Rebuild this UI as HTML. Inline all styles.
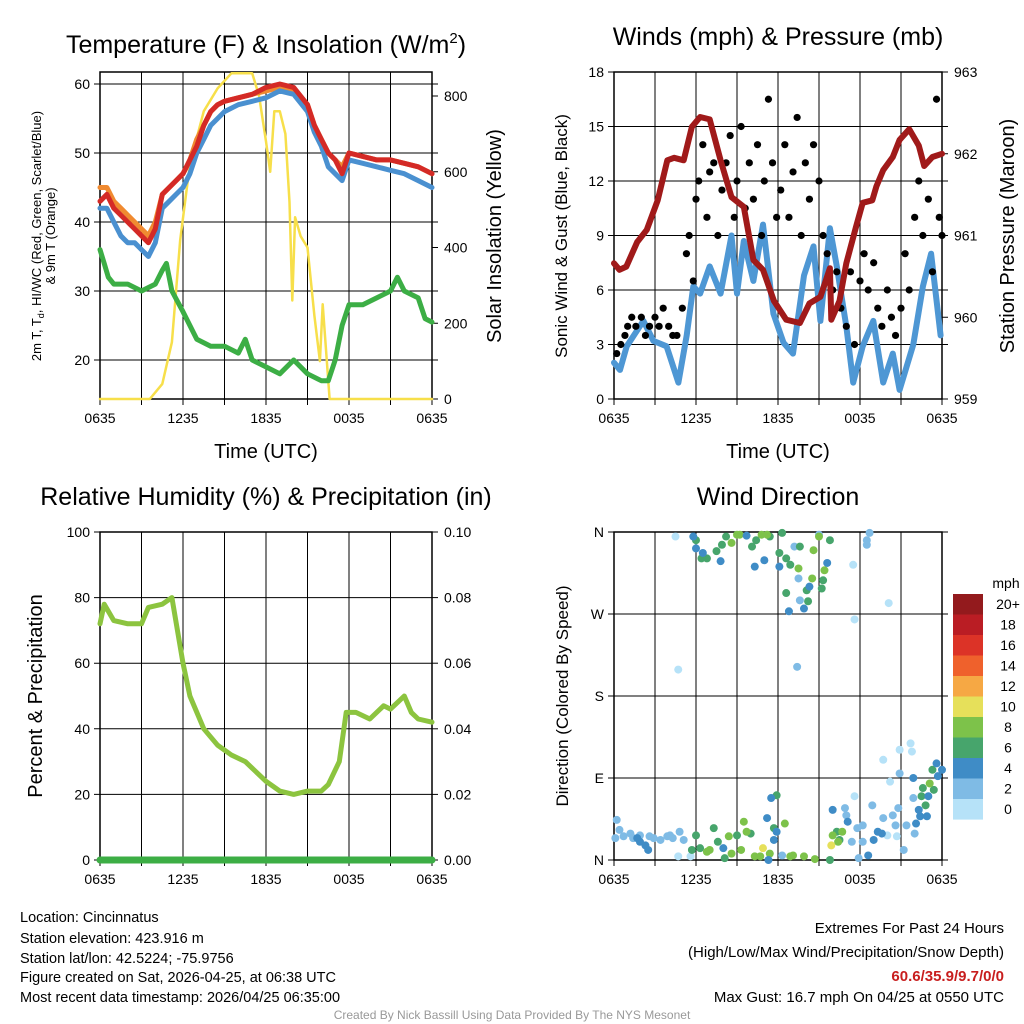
<!DOCTYPE html>
<html><head><meta charset="utf-8"><style>
body{margin:0;background:#fff;}
svg{display:block;font-family:"Liberation Sans",Arial,sans-serif;}
</style></head><body>
<svg id="s" width="1024" height="1024" viewBox="0 0 1024 1024" xmlns="http://www.w3.org/2000/svg">
<g>
<text x="266" y="53" font-size="25" text-anchor="middle">Temperature (F) &amp; Insolation (W/m<tspan dy="-10" font-size="15">2</tspan><tspan dy="10">)</tspan></text>
<text transform="translate(41,236) rotate(-90)" font-size="13" text-anchor="middle">2m T, T<tspan dy="3" font-size="9">d</tspan><tspan dy="-3">, HI/WC (Red, Green, Scarlet/Blue)</tspan></text>
<text transform="translate(55,236) rotate(-90)" font-size="13" text-anchor="middle">&amp; 9m T (Orange)</text>
<text transform="translate(501,236) rotate(-90)" font-size="20" text-anchor="middle">Solar Insolation (Yellow)</text>
<text x="266" y="458" font-size="20" text-anchor="middle">Time (UTC)</text>
</g>
<g>
<text x="778" y="45" font-size="25" text-anchor="middle">Winds (mph) &amp; Pressure (mb)</text>
<text transform="translate(567,236) rotate(-90)" font-size="17" text-anchor="middle">Sonic Wind &amp; Gust (Blue, Black)</text>
<text transform="translate(1014,236) rotate(-90)" font-size="20" text-anchor="middle">Station Pressure (Maroon)</text>
<text x="778" y="458" font-size="20" text-anchor="middle">Time (UTC)</text>
</g>
<g>
<text x="266" y="505" font-size="25" text-anchor="middle">Relative Humidity (%) &amp; Precipitation (in)</text>
<text transform="translate(42,696) rotate(-90)" font-size="20" text-anchor="middle">Percent &amp; Precipitation</text>
</g>
<g>
<text x="778" y="505" font-size="25" text-anchor="middle">Wind Direction</text>
<text transform="translate(568,696) rotate(-90)" font-size="17" text-anchor="middle">Direction (Colored By Speed)</text>
<text x="1006" y="588" font-size="14" text-anchor="middle">mph</text>
</g>
<g font-size="14.5">
<text x="20" y="922">Location: Cincinnatus</text>
<text x="20" y="943">Station elevation: 423.916 m</text>
<text x="20" y="963">Station lat/lon: 42.5224; -75.9756</text>
<text x="20" y="982">Figure created on Sat, 2026-04-25, at 06:38 UTC</text>
<text x="20" y="1002">Most recent data timestamp: 2026/04/25 06:35:00</text>
</g>
<g font-size="15" text-anchor="end">
<text x="1004" y="933">Extremes For Past 24 Hours</text>
<text x="1004" y="957">(High/Low/Max Wind/Precipitation/Snow Depth)</text>
<text x="1004" y="981" fill="#c81e1e" font-weight="bold">60.6/35.9/9.7/0/0</text>
<text x="1004" y="1002">Max Gust: 16.7 mph On 04/25 at 0550 UTC</text>
</g>
<text x="512" y="1019" font-size="12" fill="#999" text-anchor="middle">Created By Nick Bassill Using Data Provided By The NYS Mesonet</text>
</svg>
<script>
// ---- data ----
const xTickLabels=["0635","1235","1835","0035","0635"];
const tempT=[0,0.5,1,1.5,2,2.5,3,3.5,4,4.5,5,5.5,6,6.5,7,7.5,8,8.5,9,10,11,12,13,14,15,15.5,16,16.5,17,17.5,18,19,20,21,22,23,24];
const tempRed=[43,44,42,41,40,39,38,37,39,44,45,46,47,49,51,54,56,57,57.5,58,58.5,59.5,60,59.5,57,54,52,50,49,47,50,49.5,49,49,48.5,48,47];
const tempBlue=[42,42,40,38,37,37,36,35,37,42,43,44,45,47,50,52,54,55,56,57,57.5,58,59,58.5,56,53,51,48,47,46,49,48.5,48,47.5,47,46,45];
const tempOrange=[45,45,43,42,41,40,39,38,40,44,45,46,47,49,52,54,56,57,57.5,58,58.5,59,59.5,59,57,54,52,50,49,48,50,49.5,49,49,48.5,48,47];
const dewT=[0,0.3,0.6,1,2,3,4,4.5,4.8,5.2,6,7,8,9,10,10.5,11,12,13,14,15,16,16.5,17,17.5,18,19,20,21,21.5,22,23,23.5,24];
const dewGreen=[36,34,32,31,31,30,31,33,34,30,27,23,22,22,21,23,20,19,18,20,18,17,17,20,25,28,28,29,30,32,30,29,26,25.5];
const solT=[0,3.6,4.5,5.2,5.8,6.5,7.5,8.5,9.5,11,11.5,12,12.3,12.6,13,13.4,13.7,13.9,14.1,14.5,15,15.5,15.9,16.1,16.6,24];
const solY=[0,0,40,150,420,620,760,820,860,860,800,680,600,760,760,700,520,260,480,430,400,220,100,250,0,0];
const windT=[0,0.44,0.93,2.15,2.88,3.85,4.71,5.32,5.8,6.3,7.0,7.8,8.6,9.0,9.5,10.2,10.9,11.66,12.4,13.1,13.9,14.6,15.1,15.8,16.3,17.0,17.5,18.2,18.97,19.7,20.4,20.9,21.9,22.6,23.2,23.9];
const windBlue=[2,1.6,2.9,4.3,3.2,2.9,0.9,3.5,6.2,5.8,7.3,5.8,9,5.8,8.7,6.5,9.6,4.7,3.1,2.5,6.8,8.4,4.3,9.4,7.3,4,0.9,2.9,4.3,0.9,2.5,0.5,3,6.2,8,3.5];
const presT=[0,0.4,0.9,1.7,2.4,3.2,3.9,4.4,5.1,5.7,6.3,7.0,7.8,8.6,9.5,10.2,10.9,11.7,12.6,13.6,14.3,15.1,15.8,15.9,16.5,17.0,17.7,18.2,18.9,19.2,19.7,20.4,20.9,21.6,22.3,22.7,23.3,24];
const presM=[960.66,960.58,960.62,960.92,961.07,961.43,961.92,961.95,961.92,962.33,962.45,962.42,961.92,961.47,961.35,960.7,960.58,960.2,959.97,959.93,960.17,960.25,960.6,959.97,960.2,960.66,961.1,961.4,961.43,961.6,961.8,961.96,962.17,962.3,962.1,961.85,961.96,962.0];
const gustT=[0.2,0.5,0.8,1,1.3,1.6,2,2.3,2.6,3,3.3,3.6,4,4.3,4.6,5,5.3,5.5,5.8,6,6.2,6.5,6.8,7,7.3,7.6,7.9,8.2,8.5,8.8,9,9.3,9.6,9.9,10.2,10.5,10.8,11,11.3,11.6,11.9,12.2,12.5,12.8,13.1,13.4,13.7,14,14.3,14.6,15,15.3,15.6,16,16.3,16.6,17,17.3,17.6,18,18.3,18.6,19,19.3,19.6,20,20.3,20.6,21,21.3,21.6,22,22.3,22.6,23,23.3,23.6,23.8,24];
const gustV=[2.5,3,3.5,4,4.5,4,4.5,3.5,4,4.5,4,5,4,3.5,3.5,5,8,9,6.5,11,12,14,10,12.5,13,9,11.5,13,14.5,10,12,15,10.5,13,11,14,9,12,16.5,13,10,11.5,14,10,12.5,15.5,9,13,11,14,12,9,8,6,7,5,4,7,3,6.5,8,6,7.5,5,4,6,4.5,3.5,5,8,6,10,12,9,11,7,16.5,10,9];
const rhT=[0,0.3,1,2,3,3.5,4.5,5.2,6,6.5,7.5,8.5,9.5,10.5,11,12,13,14,15,16,16.5,17.3,17.8,18.5,19.5,20.5,21,21.5,22,22.5,23,24];
const rhV=[72,78,73,72,72,77,78,80,60,50,40,35,32,30,28,24,21,20,21,21,23,30,45,45,43,47,46,48,50,45,43,42];
const precipT=[0,24];
const precipV=[0,0];
const dirT=[0.1,0.4,1.2,2.6,3.4,3.9,4.3,4.8,5.1,0.2,13.2,13.5,13.6,13.4,18.5,18.7,18.5,16.9,17.0,18.2,17.8,17.4,18.2,18.9,19.7,20.4,20.8,21.9,21.4,22.0,21.2,15.0,12.3,17.9,20.6,20.9,0.7,1.9,2.9,4.1,1.4,
4.7,5.6,4.5,4.7,17.5,17.6,20.1,19.7,20.9,21.7,21.8,20.2,17.6,20.0,20.7,
6.0,5.7,6.3,7.3,7.6,8.1,9.0,10.0,11.9,11.7,15.8,6.0,6.4,6.8,7.5,7.9,8.2,10.4,12.1,12.6,12.9,12.6,13.6,14.1,14.2,15.3,15.2,15.8,10.1,11.4,12.3,23.3,22.5,22.6,22.8,23.4,16.3,16.5,
6.8,7.0,8.4,8.6,9.3,9.5,9.7,10.3,10.7,11.4,12.5,12.9,13.1,13.9,14.7,8.6,9.0,9.2,10.8,11.2,14.5,14.6,15.0,15.4,13.5,23.1,16.0,16.4,16.7,
10.9,15.9,
5.8,6.0,6.5,7.8,9.7,10.3,11.0,12.1,12.8,13.9,14.3,15.6,11.2,11.5,11.7,11.9,8.0,11.3,16.0,17.1,19.3,19.0,19.6,21.9,22.3,22.4,22.9,23.0,23.6,24.0,23.7,18.6,22.1,1.9,2.3,2.5,1.7];
const dirDeg=[24,33,29,26,22,26,24,31,22,44,344,309,285,212,351,359,346,57,49,38,35,20,20,60,46,49,57,68,38,29,11,357,5,2,38,95,26,27,24,27,24,
4,4,355,209,324,264,282,110,121,128,119,86,70,27,26,
27,11,13,35,20,2,27,29,71,35,0,351,331,331,339,346,355,351,337,331,324,293,344,296,284,307,298,351,344,355,359,99,70,79,60,77,31,22,
9,11,26,7,11,42,31,4,4,7,40,4,5,4,1,348,357,357,357,357,309,340,355,318,320,84,27,20,31,
13,16,
355,342,337,328,356,322,329,322,273,276,300,326,46,68,22,31,13,0,55,42,31,22,29,90,55,48,48,70,106,99,92,5,40,20,16,11,24];
const dirSpd=[2,2,2,2,2,2,2,2,2,2,2,2,2,2,2,2,2,2,2,2,2,2,2,2,2,2,2,2,2,2,2,2,2,2,2,2,2,2,2,2,2,
0,0,0,0,0,0,0,0,0,0,0,0,0,0,0,
6,6,6,6,6,6,6,6,6,6,6,6,6,6,6,6,6,6,6,6,6,6,6,6,6,6,6,6,6,6,6,6,6,6,6,6,6,6,
8,8,8,8,8,8,8,8,8,8,8,8,8,8,8,8,8,8,8,8,8,8,8,8,8,8,8,8,8,
10,10,
4,4,4,4,4,4,4,4,4,4,4,4,4,4,4,4,4,4,4,4,4,4,4,4,4,4,4,4,4,4,4,4,4,4,4,4,4];
const cbLabels=["20+","18","16","14","12","10","8","6","4","2","0"];
const cbColors=["#931a1d","#ba1d24","#dc3327","#ef612c","#f6a844","#e6e05a","#7dc24a","#47a56c","#3f8cc6","#7fbbe5","#b6e2f8"];

// ---- drawing ----
const S=document.getElementById('s');const NS='http://www.w3.org/2000/svg';
function mk(tag,at,parent){const e=document.createElementNS(NS,tag);for(const k in at)e.setAttribute(k,at[k]);(parent||S).appendChild(e);return e;}
function scale(d0,d1,r0,r1){return v=>r0+(v-d0)/(d1-d0)*(r1-r0);}
function pathOf(xs,ys,fx,fy){return xs.map((t,i)=>(i?'L':'M')+fx(t).toFixed(1)+','+fy(ys[i]).toFixed(1)).join('');}

function frame(px,py,w,h,leftTicks,fyL,rightTicks,fyR,name,gridY,xl){
  const g=mk('g',{});
  
  
  const fx=scale(0,24,px,px+w);
  for(let k=0;k<=8;k++){const x=fx(k*3);const l=mk('line',{x1:x,x2:x,y1:py,y2:py+h+6,stroke:'#000','stroke-width':1},g);
    
    }
  xl.forEach((s,i)=>{const t=mk('text',{x:fx(i*6),y:py+h+24,'font-size':14,'text-anchor':'middle'},g);t.textContent=s;
    
    });
  leftTicks.forEach(v=>{const y=fyL(v[0]);mk('line',{x1:px-6,x2:px+w+(gridY?6:0),y1:y,y2:y,stroke:'#000','stroke-width':1},g);
    const t=mk('text',{x:px-10,y:y+5,'font-size':14,'text-anchor':'end'},g);t.textContent=v[1];
    
    });
  (rightTicks||[]).forEach(v=>{const y=fyR(v[0]);mk('line',{x1:px+w,x2:px+w+6,y1:y,y2:y,stroke:'#000','stroke-width':1},g);
    const t=mk('text',{x:px+w+12,y:y+5,'font-size':14},g);t.textContent=v[1];
    
    });
  const r=mk('rect',{x:px,y:py,width:w,height:h,fill:'none',stroke:'#000','stroke-width':1.5},g);
  
  
  return fx;
}
function line(xs,ys,fx,fy,color,w,name){const p=mk('path',{d:pathOf(xs,ys,fx,fy),fill:'none',stroke:color,'stroke-width':w,'stroke-linejoin':'round','stroke-linecap':'round'});
  
  return p;}

// Panel 1
{const fyL=scale(20,60,360,84),fyR=scale(0,800,399,96);
 const fx=frame(100,72,332,327,[[20,'20'],[30,'30'],[40,'40'],[50,'50'],[60,'60']],fyL,[[0,'0'],[200,'200'],[400,'400'],[600,'600'],[800,'800']],fyR,'temperature',true,xTickLabels);
 line(solT,solY,fx,fyR,'#f7df4a',2.5,'insolation-line');
 line(dewT,dewGreen,fx,fyL,'#3cae45',5,'dewpoint-line');
 line(tempT,tempOrange,fx,fyL,'#f08a30',5,'temp-9m-line');
 line(tempT,tempBlue,fx,fyL,'#4a90d0',5,'temp-2m-line');
 line(tempT,tempRed,fx,fyL,'#d42a26',5,'heat-index-line');}
// Panel 2
{const fyL=scale(0,18,399,72),fyR=scale(959,963,399,72);
 const fx=frame(614,72,328,327,[0,3,6,9,12,15,18].map(v=>[v,String(v)]),fyL,[959,960,961,962,963].map(v=>[v,String(v)]),fyR,'winds',true,xTickLabels);
 line(windT,windBlue,fx,fyL,'#4e97d4',6,'sonic-wind-line');
 gustT.forEach((t,i)=>{const c=mk('circle',{cx:fx(t),cy:fyL(gustV[i]),r:3.6,fill:'#000'});
   
   });
 line(presT,presM,fx,fyR,'#a01a1a',6,'pressure-line');}
// Panel 3
{const fyL=scale(0,100,860,532),fyR=scale(0,0.1,860,532);
 const fx=frame(100,532,332,328,[0,20,40,60,80,100].map(v=>[v,String(v)]),fyL,[0,0.02,0.04,0.06,0.08,0.1].map(v=>[v,v.toFixed(2)]),fyR,'humidity',false,xTickLabels);
 line(rhT,rhV,fx,fyL,'#8cc43f',5,'relative-humidity-line');
 line(precipT,precipV,fx,fyR,'#3cae45',7,'precipitation-line');}
// Panel 4
{const fyL=scale(0,360,860,532);
 const fx=frame(614,532,328,328,[[0,'N'],[90,'E'],[180,'S'],[270,'W'],[360,'N']],fyL,null,null,'direction',true,xTickLabels);
 dirT.forEach((t,i)=>{const idx=Math.min(10,Math.floor(dirSpd[i]/2));const c=mk('circle',{cx:fx(t),cy:fyL(dirDeg[i]),r:4,fill:cbColors[10-idx]});
   
   });
 cbColors.forEach((col,i)=>{const y=594+i*20.5;const r=mk('rect',{x:953,y:y,width:30,height:20.6,fill:col});
   
   
   const t=mk('text',{x:1008,y:y+15,'font-size':14,'text-anchor':'middle'});t.textContent=cbLabels[i];
   
   });}
</script>
</body></html>
